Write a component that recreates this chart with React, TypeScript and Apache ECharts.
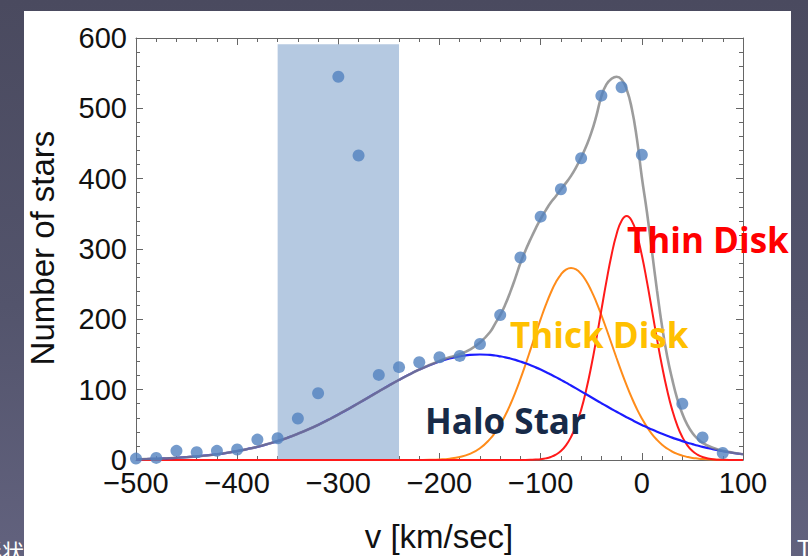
import React, { useEffect, useRef } from "react";
import * as echarts from "echarts";

// ---- data ----
const vGrid = [
  -500, -490, -480, -470, -460, -450, -440, -430, -420, -410, -400, -390, -380, -370, -360, -350, -340, -330,
  -320, -310, -300, -290, -280, -270, -260, -250, -240, -230, -220, -210, -200, -190, -180, -170, -160, -150,
  -145, -140, -135, -130, -125, -120, -115, -110, -105, -100, -95, -90, -85, -80, -75, -70, -65, -60, -55, -50,
  -45, -40, -35, -30, -25, -20, -15, -10, -5, 0, 5, 10, 15, 20, 25, 30, 35, 40, 45, 50, 55, 60,
  70, 80, 90, 100,
];

const haloCurve = [
  1.0, 1.4, 1.8, 2.4, 3.1, 4.0, 5.2, 6.5, 8.2, 10.2, 12.6, 15.5, 18.7, 22.6, 26.9, 31.8, 37.3, 43.3,
  49.9, 57.1, 64.6, 72.6, 80.8, 89.2, 97.6, 105.9, 113.9, 121.5, 128.5, 134.7, 140.0, 144.3, 147.4, 149.4, 150.0, 149.4,
  148.6, 147.4, 146.0, 144.3, 142.3, 140.0, 137.5, 134.7, 131.7, 128.5, 125.1, 121.5, 117.8, 113.9, 110.0, 105.9, 101.8, 97.6, 93.4, 89.2,
  85.0, 80.8, 76.7, 72.6, 68.6, 64.6, 60.8, 57.1, 53.4, 49.9, 46.6, 43.3, 40.2, 37.3, 34.5, 31.8, 29.3, 26.9, 24.6, 22.6, 20.6, 18.7,
  15.5, 12.6, 10.2, 8.2,
];

const thickCurve = [
  0, 0, 0, 0, 0, 0, 0, 0, 0, 0, 0, 0, 0, 0, 0, 0, 0, 0,
  0, 0, 0, 0, 0, 0, 0, 0, 0, 0, 0.1, 0.3, 0.8, 1.9, 4.2, 8.7, 16.7, 30.0,
  39.2, 50.4, 63.6, 78.9, 96.2, 115.3, 135.8, 157.2, 179.0, 200.2, 220.1, 237.8, 252.6, 263.7, 270.7, 273.0, 270.9, 264.6, 254.5, 240.9,
  224.6, 206.1, 186.2, 165.6, 145.0, 125.0, 106.1, 88.6, 72.9, 59.1, 47.1, 36.9, 28.6, 21.7, 16.3, 12.0, 8.7, 6.2, 4.4, 3.0, 2.1, 1.4,
  0.6, 0.2, 0.1, 0,
];

const thinCurve = [
  0, 0, 0, 0, 0, 0, 0, 0, 0, 0, 0, 0, 0, 0, 0, 0, 0, 0,
  0, 0, 0, 0, 0, 0, 0, 0, 0, 0, 0, 0, 0, 0, 0, 0, 0, 0,
  0, 0, 0, 0, 0, 0, 0.1, 0.3, 0.6, 1.2, 2.3, 4.3, 7.6, 12.8, 20.8, 32.6, 49.2, 71.3, 99.4, 133.2,
  171.8, 213.0, 253.9, 291.1, 320.9, 340.3, 347.0, 340.3, 320.9, 291.1, 253.9, 213.0, 171.8, 133.2, 99.4, 71.3, 49.2, 32.6, 20.8, 12.8, 7.6, 4.3,
  1.2, 0.3, 0.1, 0,
];

const totalCurve = [
  1.0, 1.4, 1.8, 2.4, 3.1, 4.0, 5.2, 6.5, 8.2, 10.2, 12.6, 15.5, 18.7, 22.6, 26.9, 31.8, 37.3, 43.3,
  49.9, 57.1, 64.6, 72.6, 80.8, 89.2, 97.6, 105.9, 113.9, 121.5, 128.6, 135.0, 140.8, 146.0, 150.5, 157.0, 167.0, 182.0,
  194, 206, 221, 239, 259, 280, 298, 314, 329, 343, 355, 366, 375, 385, 394, 404, 416, 430, 446, 465,
  489, 517, 534, 542, 545, 541, 527, 500, 458, 402, 353, 297, 241, 190, 148, 115, 87, 66, 50, 38.4, 30.3, 24.4,
  17.3, 13.1, 10.4, 8.2,
];

const pointV = [
  -500, -480, -460, -440, -420, -400, -380, -360, -340, -320, -300, -280, -260, -240, -220,
  -200, -180, -160, -140, -120, -100, -80, -60, -40, -20, 0, 40, 60, 80,
];
const pointCount = [
  2, 3, 13, 11, 13, 15, 29, 31, 59, 95, 545, 433, 121, 132, 139,
  146, 148, 165, 206, 288, 346, 385, 429, 518, 530, 434, 80, 32, 10,
];

const bandRange = [-360, -240];
const bandTop = 591;

const curveLabels = [
  { text: "Thin Disk", color: "#ff0000" },
  { text: "Thick Disk", color: "#ffc000" },
  { text: "Halo Star", color: "#172a48" },
];

const xTitle = "v [km/sec]";
const yTitle = "Number of stars";

function pairs(ys: number[]) {
  return vGrid.map((v, i) => [v, ys[i]]);
}

const FRAME = "#666666";

function frameX(pos: "bottom" | "top", labels: boolean) {
  return {
    type: "value",
    position: pos,
    min: -500,
    max: 100,
    interval: 100,
    axisLine: { show: true, onZero: false, lineStyle: { color: FRAME, width: 1 } },
    axisTick: { show: true, inside: true, length: 7, lineStyle: { color: FRAME } },
    minorTick: { show: true, splitNumber: 5, length: 4, lineStyle: { color: FRAME } },
    splitLine: { show: false },
    minorSplitLine: { show: false },
    axisLabel: {
      show: labels,
      fontSize: 29,
      fontFamily: "Liberation Sans",
      color: "#111",
      margin: 8,
      formatter: (v: number) => String(v).replace("-", "\u2212"),
    },
  };
}

function frameY(pos: "left" | "right", labels: boolean) {
  return {
    type: "value",
    position: pos,
    min: 0,
    max: 600,
    interval: 100,
    axisLine: { show: true, onZero: false, lineStyle: { color: FRAME, width: 1 } },
    axisTick: { show: true, inside: true, length: 7, lineStyle: { color: FRAME } },
    minorTick: { show: true, splitNumber: 5, length: 4, lineStyle: { color: FRAME } },
    splitLine: { show: false },
    minorSplitLine: { show: false },
    axisLabel: {
      show: labels,
      fontSize: 29,
      fontFamily: "Liberation Sans",
      color: "#111",
      margin: 9,
    },
  };
}

export default function App() {
  const ref = useRef<HTMLDivElement>(null);

  useEffect(() => {
    if (!ref.current) return;
    const chart = echarts.init(ref.current, undefined, { renderer: "svg" });
    const labelFont = { fontSize: 35, fontFamily: "Open Sans", fontWeight: "bold" };
    const option: any = {
      animation: false,
      backgroundColor: "transparent",
      grid: { left: 136, right: 65, top: 38, bottom: 96, outerBoundsMode: "none" },
      xAxis: [frameX("bottom", true), frameX("top", false)],
      yAxis: [frameY("left", true), frameY("right", false)],
      graphic: [
        {
          type: "text",
          z: -20,
          x: 24,
          y: 550,
          style: { text: "形状", fill: "#ffffff", fontSize: 22, fontFamily: "Noto Sans CJK SC", align: "right", verticalAlign: "middle" },
        },
        {
          type: "text",
          z: -20,
          x: 797,
          y: 536,
          style: { text: "T", fill: "#ffffff", fontSize: 24, fontFamily: "Liberation Sans", align: "left", verticalAlign: "top" },
        },
        {
          type: "rect",
          z: -10,
          shape: { x: 24, y: 11, width: 767, height: 545 },
          style: { fill: "#ffffff" },
        },
        {
          type: "text",
          z: 100,
          x: 42,
          y: 248,
          rotation: Math.PI / 2,
          style: { text: yTitle, fill: "#111", fontSize: 33, fontFamily: "Liberation Sans", align: "center", verticalAlign: "middle" },
        },
        {
          type: "text",
          z: 100,
          x: 439,
          y: 536,
          style: { text: xTitle, fill: "#111", fontSize: 33, fontFamily: "Liberation Sans", align: "center", verticalAlign: "middle" },
        },
        {
          type: "text",
          z: 100,
          x: 627,
          y: 239,
          style: { text: curveLabels[0].text, fill: curveLabels[0].color, ...labelFont, align: "left", verticalAlign: "middle" },
        },
        {
          type: "text",
          z: 100,
          x: 510,
          y: 334,
          style: { text: curveLabels[1].text, fill: curveLabels[1].color, ...labelFont, align: "left", verticalAlign: "middle" },
        },
        {
          type: "text",
          z: 100,
          x: 425,
          y: 420,
          style: { text: curveLabels[2].text, fill: curveLabels[2].color, ...labelFont, align: "left", verticalAlign: "middle" },
        },
      ],
      series: [
        {
          type: "line",
          name: "band",
          z: 1,
          silent: true,
          data: [],
          markArea: {
            silent: true,
            itemStyle: { color: "#b5c9e1", opacity: 1 },
            data: [[{ xAxis: bandRange[0], yAxis: 0 }, { xAxis: bandRange[1], yAxis: bandTop }]],
          },
        },
        {
          type: "line",
          name: "Thick Disk",
          z: 3,
          smooth: true,
          showSymbol: false,
          lineStyle: { color: "#ff8c1a", width: 2 },
          data: pairs(thickCurve),
        },
        {
          type: "line",
          name: "Thin Disk",
          z: 4,
          smooth: true,
          showSymbol: false,
          lineStyle: { color: "#ff1a1a", width: 2 },
          data: pairs(thinCurve),
        },
        {
          type: "line",
          name: "Halo Star",
          z: 5,
          smooth: true,
          showSymbol: false,
          lineStyle: { color: "#1c1cff", width: 2.2 },
          data: pairs(haloCurve),
        },
        {
          type: "line",
          name: "Total",
          z: 6,
          smooth: true,
          showSymbol: false,
          lineStyle: { color: "#808080", width: 2.6, opacity: 0.78 },
          data: pairs(totalCurve),
        },
        {
          type: "scatter",
          name: "stars",
          z: 7,
          symbolSize: 12,
          itemStyle: { color: "#5282bf" },
          data: pointV.map((v, i) => [v, pointCount[i]]),
        },
      ],
    };
    chart.setOption(option);
    return () => chart.dispose();
  }, []);

  return (
    <div
      style={{
        position: "fixed",
        left: 0,
        top: 0,
        width: 808,
        height: 556,
        background: "linear-gradient(180deg, #4a4a5f 0%, #53546c 55%, #62627e 100%)",
      }}
    >
      <div ref={ref} style={{ width: 808, height: 556 }} />
    </div>
  );
}
